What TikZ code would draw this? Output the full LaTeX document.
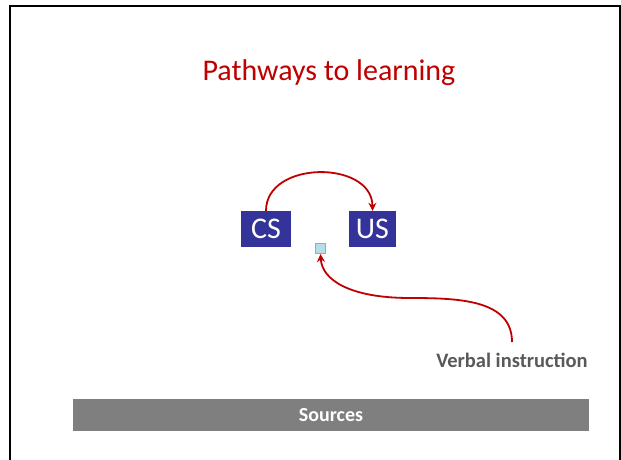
\documentclass[tikz,border=0pt]{standalone}
\usepackage{fontspec}
\setmainfont{Carlito}
\usetikzlibrary{arrows.meta}
\definecolor{titlered}{HTML}{C00000}
\definecolor{boxblue}{HTML}{333399}
\definecolor{barGray}{HTML}{7F7F7F}
\definecolor{textGray}{HTML}{595959}
\definecolor{sqfill}{HTML}{B7DEE8}
\definecolor{sqdraw}{HTML}{8FAFB5}
\tikzset{
  stimbox/.style={fill=boxblue, text=white, inner sep=0pt, font=\fontsize{30}{32}\selectfont},
  redarrow/.style={draw=titlered, line width=1.8pt, -{Stealth[length=8pt,width=8pt]}},
}
\begin{document}
\begin{tikzpicture}[x=1pt,y=-1pt]
\useasboundingbox (0,0) rectangle (621,459);
\fill[white] (0,0) rectangle (621,459);
\draw[line width=2pt] (10,460) -- (10,6) -- (620,6) -- (620,460);
\node[text=titlered, font=\fontsize{30}{34}\selectfont] (title) at (329,73) {Pathways to learning};
\node[stimbox, minimum width=50pt, minimum height=36pt] (cs) at (266,229) {CS};
\node[stimbox, minimum width=47pt, minimum height=36pt] (us) at (372.5,229) {US};
\node[fill=sqfill, draw=sqdraw, line width=1pt, minimum size=10pt, inner sep=0pt] (sq) at (320.5,248.5) {};
\node[text=textGray, font=\bfseries\fontsize{20.5}{24}\selectfont] (verbal) at (512,360) {Verbal instruction};
\coordinate (vstart) at (512,342);
\node[fill=barGray, minimum width=516pt, minimum height=32pt, inner sep=0pt] (bar) at (331,415) {};
\node[text=white, font=\bfseries\fontsize{20}{24}\selectfont] (sources) at (bar) {Sources};
\draw[redarrow] (cs.north) .. controls (266,160) and (372,160) .. (us.north);
\draw[redarrow] (vstart) .. controls (512,300) and (460,298) .. (410,298) .. controls (350,298) and (322,280) .. (sq.south);
\end{tikzpicture}
\end{document}
